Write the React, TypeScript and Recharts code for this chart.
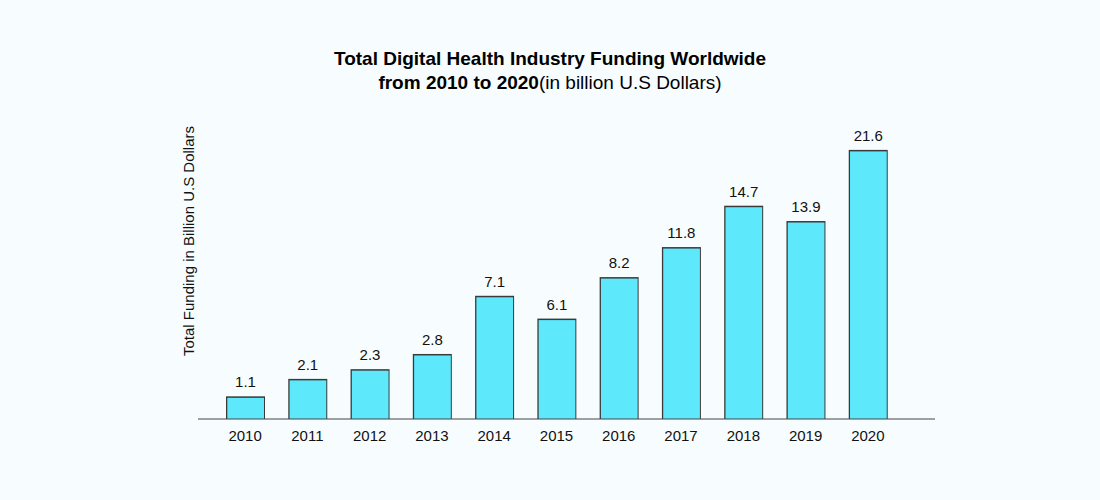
import { Bar, BarChart, LabelList, XAxis, YAxis } from 'recharts'

// years and the funding figures printed above each bar
const years = ['2010', '2011', '2012', '2013', '2014', '2015', '2016', '2017', '2018', '2019', '2020']
const funding = [1.1, 2.1, 2.3, 2.8, 7.1, 6.1, 8.2, 11.8, 14.7, 13.9, 21.6]
// the source bars are not drawn to scale; these are their lengths as drawn,
// read off the picture in the same units (21.6 = tallest bar)
const drawnLength = [1.82, 3.22, 4.0, 5.22, 9.89, 8.06, 11.39, 13.8, 17.12, 15.89, 21.6]

const data = years.map((year, i) => ({ year, length: drawnLength[i], label: funding[i] }))

const FONT = '"Liberation Sans", Arial, sans-serif'
const BAR = '#5de8fc'
const EDGE = '#3a3a3a'

const OutlinedBar = (props: any) => {
  const { x, y, width, height } = props
  if (!height) return null
  return (
    <g>
      <rect x={x} y={y} width={width} height={height} fill={EDGE} />
      <rect x={x + 1.3} y={y + 1.5} width={width - 2.3} height={height - 1.5} fill={BAR} />
    </g>
  )
}

export default function App() {
  return (
    <div
      style={{
        position: 'fixed',
        left: 0,
        top: 0,
        width: 1100,
        height: 500,
        background: '#f7fdfe',
        fontFamily: FONT,
      }}
    >
      <div
        style={{
          position: 'absolute',
          top: 47,
          left: 0,
          width: 1100,
          textAlign: 'center',
          fontSize: 19,
          lineHeight: '24px',
          color: '#000',
        }}
      >
        <div style={{ fontWeight: 'bold' }}>Total Digital Health Industry Funding Worldwide</div>
        <div>
          <b>from 2010 to 2020</b>(in billion U.S Dollars)
        </div>
      </div>
      <div style={{ position: 'absolute', left: 0, top: 0 }}>
        <BarChart
          width={1100}
          height={500}
          data={data}
          margin={{ top: 120, right: 165, left: 198, bottom: 51 }}
        >
          <XAxis
            dataKey="year"
            height={30}
            padding={{ left: 16, right: 36 }}
            axisLine={{ stroke: '#444', strokeWidth: 1 }}
            tickLine={false}
            tickSize={0}
            tickMargin={11}
            tick={{ fontSize: 15, fill: '#111', fontFamily: FONT }}
            interval={0}
          />
          <YAxis type="number" domain={[0, 24]} hide />
          <text
            x={188}
            y={241}
            transform="rotate(-90 188 241)"
            textAnchor="middle"
            dominantBaseline="central"
            fontSize={15}
            fontFamily={FONT}
            fill="#111"
          >
            Total Funding in Billion U.S Dollars
          </text>
          <Bar dataKey="length" barSize={39} shape={OutlinedBar} isAnimationActive={false}>
            <LabelList
              dataKey="label"
              position="top"
              offset={9}
              style={{ fontSize: 15, fill: '#111', fontFamily: FONT }}
            />
          </Bar>
        </BarChart>
      </div>
    </div>
  )
}
